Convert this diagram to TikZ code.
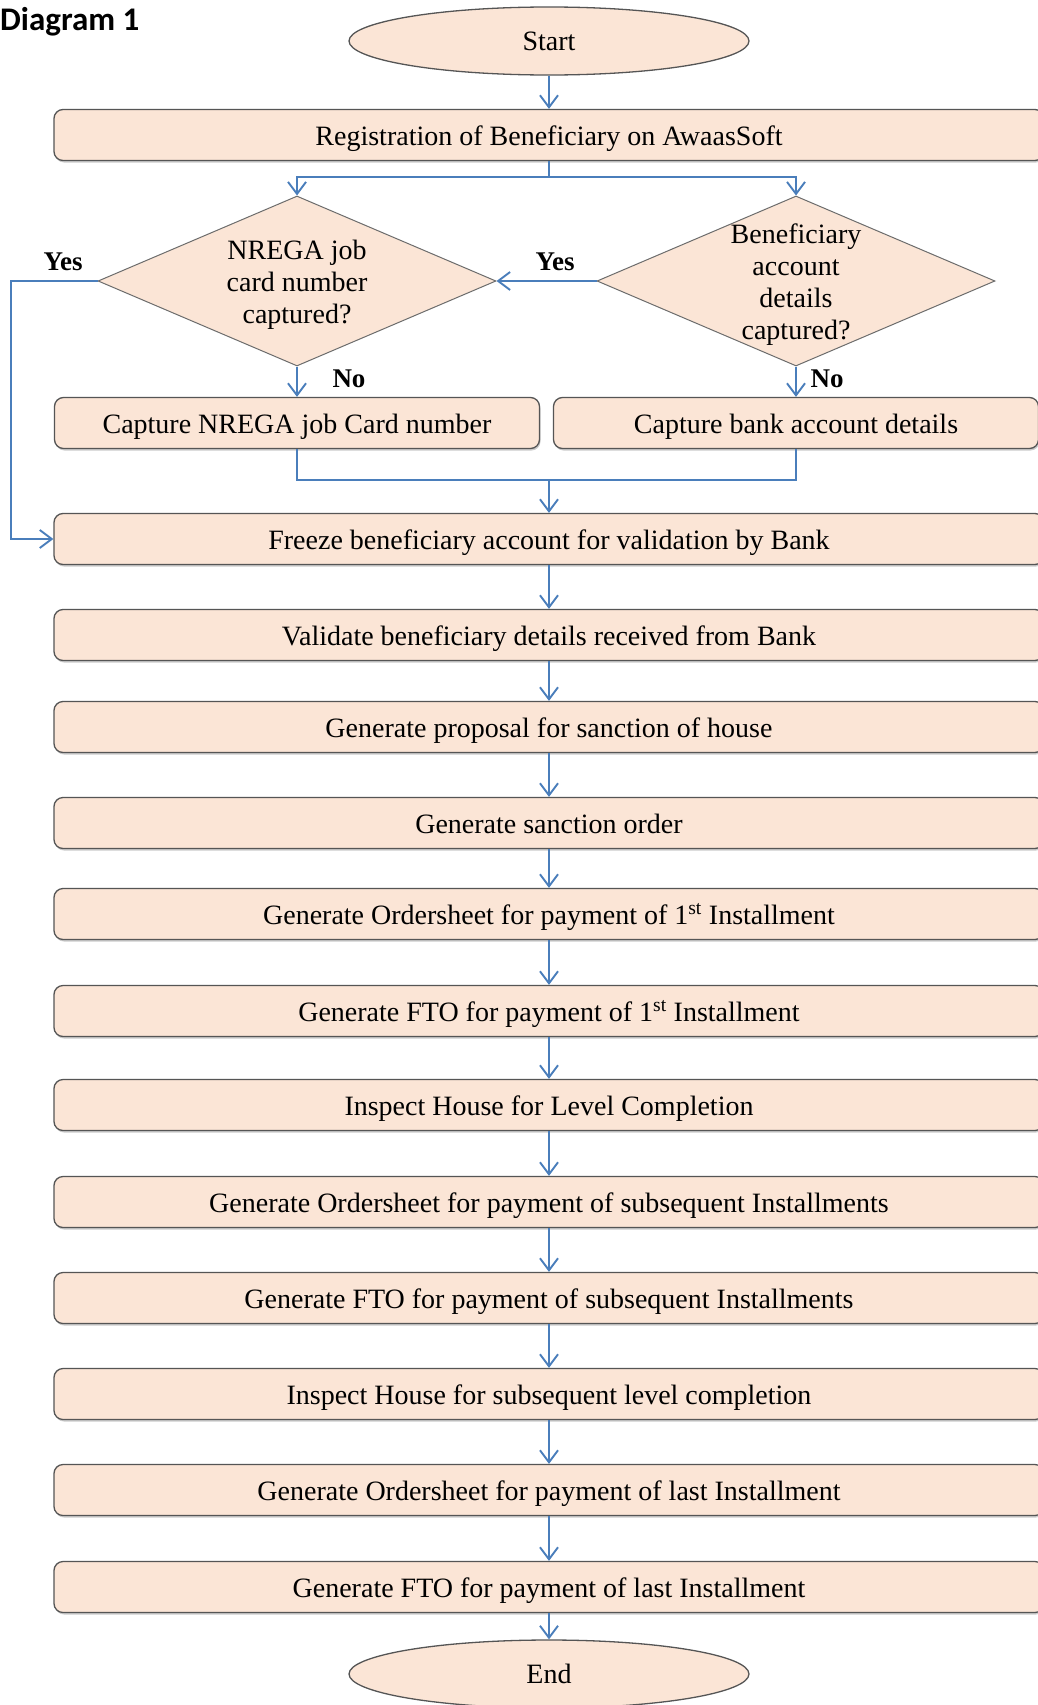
\documentclass[tikz,border=0pt]{standalone}
\usepackage{fontspec}
\setmainfont{Liberation Serif}
\newfontfamily\titlefont{Carlito}
\usetikzlibrary{shapes.geometric,arrows.meta,shadows}
\definecolor{peach}{RGB}{251,229,214}
\definecolor{flowblue}{RGB}{74,126,187}
\definecolor{edgegray}{RGB}{85,85,85}
\begin{document}
\begin{tikzpicture}[x=1pt,y=-1pt,
  shadowed/.style={drop shadow={shadow xshift=1pt,shadow yshift=-2pt,fill=black!40,opacity=0.5}},
  box/.style={draw=edgegray, line width=1.3pt, fill=peach, rounded corners=9pt,
    minimum width=990pt, minimum height=51pt, inner sep=0pt,
    text height=22pt, text depth=2pt,
    font=\fontsize{28}{33}\selectfont, shadowed},
  halfbox/.style={box, minimum width=485pt},
  term/.style={ellipse, draw=edgegray, line width=1.3pt, fill=peach,
    minimum width=400pt, minimum height=68pt, inner sep=0pt,
    font=\fontsize{28}{33}\selectfont},
  decision/.style={diamond, draw=gray!85!black, line width=1pt, fill=peach,
    minimum width=398pt, minimum height=170pt, inner sep=0pt},
  dtext/.style={align=center, inner sep=0pt, font=\fontsize{28}{32}\selectfont},
  lbl/.style={inner sep=0pt, font=\fontsize{27}{30}\selectfont\bfseries},
  line/.style={draw=flowblue, line width=1.9pt},
  arr/.style={line, -{Straight Barb[length=12pt,width=18pt,line width=1.9pt]}}
]
\useasboundingbox (0,0) rectangle (1038,1705);
\clip (0,0) rectangle (1038,1705);
\fill[white] (0,0) rectangle (1038,1705);

\node[anchor=west, inner sep=0pt, font=\titlefont\fontsize{33}{36}\selectfont\bfseries] (title) at (0,22) {Diagram 1};

\node[term] (start) at (549,41) {Start};
\node[box] (reg) at (549,135) {Registration of Beneficiary on AwaasSoft};

\node[decision] (d1) at (297,281) {};
\node[dtext] (d1t) at (297,285) {NREGA job\\card number\\captured?};
\node[decision] (d2) at (796,281) {};
\node[dtext] (d2t) at (796,285) {Beneficiary\\account\\details\\captured?};

\node[halfbox] (cap1) at (297,423) {Capture NREGA job Card number};
\node[halfbox] (cap2) at (796,423) {Capture bank account details};

\node[box] (freeze) at (549,539) {Freeze beneficiary account for validation by Bank};
\node[box] (valid) at (549,635) {Validate beneficiary details received from Bank};
\node[box] (prop) at (549,727) {Generate proposal for sanction of house};
\node[box] (sanc) at (549,823) {Generate sanction order};
\node[box] (os1) at (549,914) {Generate Ordersheet for payment of 1\textsuperscript{st} Installment};
\node[box] (fto1) at (549,1011) {Generate FTO for payment of 1\textsuperscript{st} Installment};
\node[box] (insp1) at (549,1105) {Inspect House for Level Completion};
\node[box] (os2) at (549,1202) {Generate Ordersheet for payment of subsequent Installments};
\node[box] (fto2) at (549,1298) {Generate FTO for payment of subsequent Installments};
\node[box] (insp2) at (549,1394) {Inspect House for subsequent level completion};
\node[box] (os3) at (549,1490) {Generate Ordersheet for payment of last Installment};
\node[box] (fto3) at (549,1587) {Generate FTO for payment of last Installment};
\node[term] (end) at (549,1674) {End};

% labels
\node[lbl] (yes1) at (63,262) {Yes};
\node[lbl] (yes2) at (555,262) {Yes};
\node[lbl] (no1) at (349,379) {No};
\node[lbl] (no2) at (827,379) {No};

% connectors
\draw[arr] (start.south) -- (reg.north);
\coordinate (split) at (549,177);
\draw[line] (reg.south) -- (split);
\draw[arr] (split) -| (d1.north);
\draw[arr] (split) -| (d2.north);
\draw[arr] (d2.west) -- (d1.east);
\coordinate (loopc) at (11,281);
\draw[arr] (d1.west) -- (loopc) |- (freeze.west);
\draw[arr] (d1.south) -- (cap1.north);
\draw[arr] (d2.south) -- (cap2.north);
\coordinate (merge) at (549,480);
\draw[line] (cap1.south) |- (merge);
\draw[line] (cap2.south) |- (merge);
\draw[arr] (merge) -- (freeze.north);
\draw[arr] (freeze.south) -- (valid.north);
\draw[arr] (valid.south) -- (prop.north);
\draw[arr] (prop.south) -- (sanc.north);
\draw[arr] (sanc.south) -- (os1.north);
\draw[arr] (os1.south) -- (fto1.north);
\draw[arr] (fto1.south) -- (insp1.north);
\draw[arr] (insp1.south) -- (os2.north);
\draw[arr] (os2.south) -- (fto2.north);
\draw[arr] (fto2.south) -- (insp2.north);
\draw[arr] (insp2.south) -- (os3.north);
\draw[arr] (os3.south) -- (fto3.north);
\draw[arr] (fto3.south) -- (end.north);
\end{tikzpicture}
\end{document}
